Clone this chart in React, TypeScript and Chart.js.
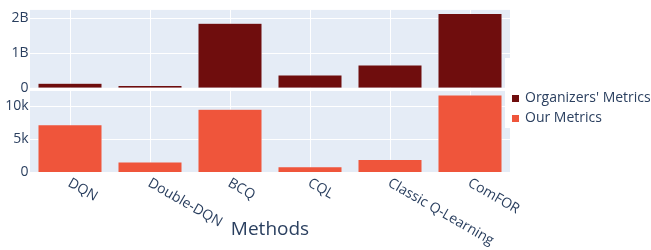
import React, { useEffect, useRef } from "react";
import { Chart, registerables } from "chart.js";

Chart.register(...registerables);

const categories = ["DQN", "Double-DQN", "BCQ", "CQL", "Classic Q-Learning", "ComFOR"];
const organizersMetrics = [0.13e9, 0.07e9, 1.86e9, 0.37e9, 0.66e9, 2.14e9];
const ourMetrics = [7150, 1500, 9500, 780, 1900, 11650];
const seriesNames = ["Organizers' Metrics", "Our Metrics"];
const seriesColors = ["#6f0d0d", "#EF553B"];
const topTicks = [0, 1e9, 2e9];
const topTickLabels = ["0", "1B", "2B"];
const bottomTicks = [0, 5000, 10000];
const bottomTickLabels = ["0", "5k", "10k"];
const xTitle = "Methods";

const TOP_MAX = 2.247e9;
const TOP_MIN = -0.0907e9;
const BOTTOM_MAX = 12270;

const FONT = '"Open Sans", "DejaVu Sans", sans-serif';
const TEXT_COLOR = "#2a3f5f";
const BG = "#E5ECF6";

const plotlyPlugin = {
  id: "plotlyLook",
  beforeDatasetsDraw(chart: any) {
    const { ctx, scales, chartArea } = chart;
    const x = scales.x, y1 = scales.y1, y2 = scales.y2;
    const left = chartArea.left, right = chartArea.right;
    const z1 = y1.getPixelForValue(0);
    ctx.save();
    ctx.fillStyle = BG;
    ctx.fillRect(left, y1.top, right - left, z1 - y1.top);
    ctx.fillRect(left, y2.top, right - left, y2.bottom - y2.top);
    ctx.strokeStyle = "#ffffff";
    ctx.lineWidth = 1;
    const line = (ax: number, ay: number, bx: number, by: number) => {
      ctx.beginPath();
      ctx.moveTo(ax, ay);
      ctx.lineTo(bx, by);
      ctx.stroke();
    };
    categories.forEach((_, i) => {
      const px = Math.round(x.getPixelForValue(i)) + 0.5;
      line(px, y1.top, px, z1);
      line(px, y2.top, px, y2.bottom);
    });
    topTicks.forEach((v) => {
      if (v === 0) return;
      const py = Math.round(y1.getPixelForValue(v)) + 0.5;
      line(left, py, right, py);
    });
    bottomTicks.forEach((v) => {
      if (v === 0) return;
      const py = Math.round(y2.getPixelForValue(v)) + 0.5;
      line(left, py, right, py);
    });
    ctx.restore();
  },
  afterDraw(chart: any) {
    const { ctx, scales, chartArea } = chart;
    const x = scales.x;
    ctx.save();
    ctx.fillStyle = TEXT_COLOR;
    ctx.font = `14px ${FONT}`;
    categories.forEach((c, i) => {
      const cx = x.getPixelForValue(i);
      ctx.save();
      ctx.translate(cx - 1, 182);
      ctx.rotate((30 * Math.PI) / 180);
      ctx.textAlign = "left";
      ctx.textBaseline = "middle";
      ctx.fillText(c, 0, 0);
      ctx.restore();
    });
    ctx.font = `19px ${FONT}`;
    ctx.textAlign = "center";
    ctx.textBaseline = "alphabetic";
    ctx.fillText(xTitle, (chartArea.left + chartArea.right) / 2, 235);
    ctx.fillStyle = "#ffffff";
    ctx.fillRect(505, 58, chart.width - 505, 70);
    ctx.font = `14px ${FONT}`;
    ctx.textAlign = "left";
    ctx.textBaseline = "middle";
    seriesNames.forEach((name, i) => {
      const cy = 98.5 + i * 20;
      ctx.fillStyle = seriesColors[i];
      ctx.fillRect(512, cy - 3.5, 7, 7);
      ctx.fillStyle = TEXT_COLOR;
      ctx.fillText(name, 525, cy);
    });
    ctx.restore();
  },
};

const yTickFont = { family: FONT, size: 14 };

export default function App() {
  const ref = useRef<HTMLCanvasElement | null>(null);
  useEffect(() => {
    document.body.style.margin = "0";
    const canvas = ref.current;
    if (!canvas) return;
    const chart = new Chart(canvas, {
      type: "bar",
      data: {
        labels: categories,
        datasets: [
          {
            label: seriesNames[0],
            data: organizersMetrics,
            backgroundColor: seriesColors[0],
            borderColor: BG,
            borderWidth: 0.5,
            yAxisID: "y1",
            grouped: false,
            barPercentage: 0.8,
            categoryPercentage: 1.0,
          },
          {
            label: seriesNames[1],
            data: ourMetrics,
            backgroundColor: seriesColors[1],
            borderColor: BG,
            borderWidth: 0.5,
            yAxisID: "y2",
            grouped: false,
            barPercentage: 0.8,
            categoryPercentage: 1.0,
          },
        ],
      } as any,
      options: {
        responsive: false,
        animation: false,
        devicePixelRatio: 1,
        layout: { padding: { top: 4.5, right: 141, left: 0, bottom: 0 } },
        plugins: { legend: { display: false }, tooltip: { enabled: false } },
        scales: {
          x: {
            type: "category",
            offset: true,
            grid: { display: false, drawTicks: false },
            border: { display: false },
            ticks: { display: false },
            afterFit: (s: any) => {
              s.height = 78;
            },
          },
          y2: {
            type: "linear",
            position: "left",
            stack: "v",
            stackWeight: 1,
            min: 0,
            max: BOTTOM_MAX,
            grid: { display: false, drawTicks: false },
            border: { display: false },
            afterBuildTicks: (s: any) => {
              s.ticks = bottomTicks.map((v) => ({ value: v }));
            },
            ticks: {
              padding: 1.5,
              color: TEXT_COLOR,
              font: yTickFont,
              callback: (_v: any, i: number) => bottomTickLabels[i],
            },
            afterFit: (s: any) => {
              s.width = 30;
            },
          },
          y1: {
            type: "linear",
            position: "left",
            stack: "v",
            stackWeight: 1,
            min: TOP_MIN,
            max: TOP_MAX,
            grid: { display: false, drawTicks: false },
            border: { display: false },
            afterBuildTicks: (s: any) => {
              s.ticks = topTicks.map((v) => ({ value: v }));
            },
            ticks: {
              padding: 1.5,
              color: TEXT_COLOR,
              font: yTickFont,
              callback: (_v: any, i: number) => topTickLabels[i],
            },
            afterFit: (s: any) => {
              s.width = 30;
            },
          },
        },
      } as any,
      plugins: [plotlyPlugin],
    });
    return () => chart.destroy();
  }, []);
  return (
    <div style={{ width: 651, height: 250 }}>
      <canvas ref={ref} width={651} height={250} style={{ display: "block" }} />
    </div>
  );
}
